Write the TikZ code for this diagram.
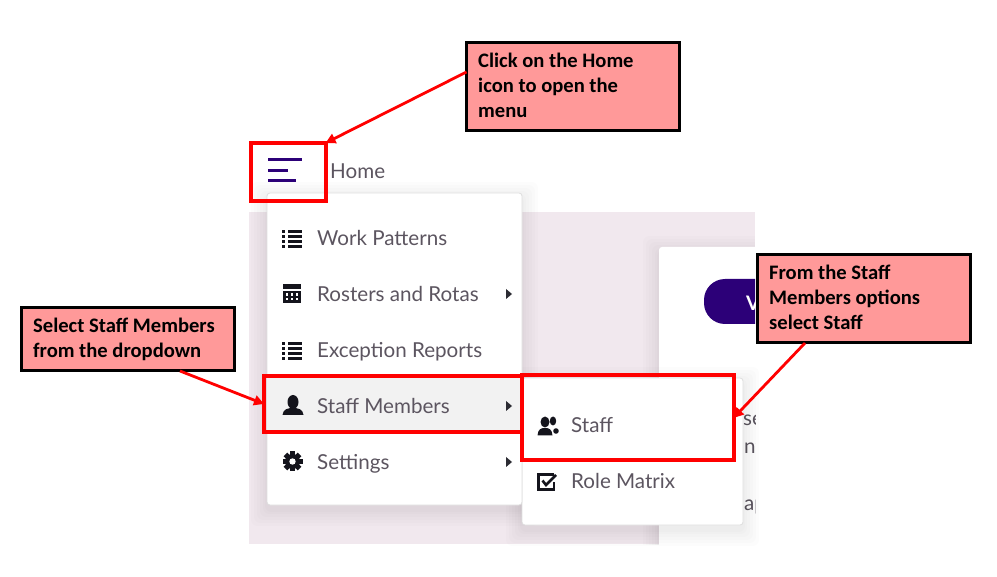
\documentclass[tikz,border=0pt]{standalone}
\usepackage{fontspec}
\setmainfont{Lato}
\newfontfamily\callfont{Carlito}[BoldFont={Carlito Bold}]
\usetikzlibrary{arrows.meta}
\definecolor{callfill}{HTML}{FF9999}
\definecolor{redbox}{HTML}{FF0000}
\definecolor{pinkbg}{HTML}{F1E8EE}
\definecolor{menutext}{HTML}{5C5560}
\definecolor{deep}{HTML}{2C0078}
\definecolor{ico}{HTML}{14141C}
\tikzset{
  x=1pt,y=-1pt,
  callout/.style={draw=black,line width=2.4pt,fill=callfill,inner sep=0pt,outer sep=0pt,anchor=north west},
  calltext/.style={font=\callfont\bfseries\fontsize{20.6}{25}\selectfont,text=black,anchor=north west,align=left,inner sep=0pt},
  redframe/.style={draw=redbox,line width=4pt,inner sep=0pt,outer sep=0pt,anchor=north west},
  redarrow/.style={draw=redbox,line width=2.8pt,-{Triangle[length=10pt,width=10pt]}},
  menuitem/.style={font=\fontsize{20.6}{24}\selectfont,text=menutext,anchor=base west,inner sep=0pt},
  panel/.style={draw=black!13,line width=.8pt,fill=white,rounded corners=3pt},
  bar/.style={fill=deep},
  icon/.style={fill=ico,draw=none},
  lineicon/.style={draw=ico,line width=2.2pt},
  tri/.style={fill=ico!90,draw=none}
}
\newcommand{\listicon}[2]{%
  \foreach \yy in {-7.5,-2.5,2.5,7.5}{
    \draw[lineicon] (#1-4,#2+\yy) -- (#1+10,#2+\yy);
    \draw[lineicon] (#1-10,#2+\yy) -- (#1-7,#2+\yy);
  }}
\newcommand{\softshadow}[4]{%
  \foreach \dd in {16,13,10,7,4,2}{
    \fill[black,opacity=.012,rounded corners=6pt] (#1-\dd,#2-\dd+5) rectangle (#3+\dd,#4+\dd+5);
  }}
\begin{document}
\begin{tikzpicture}
\useasboundingbox (0,0) rectangle (997,577);
\fill[white] (0,0) rectangle (997,577);
\begin{scope}
\clip (249,150) rectangle (755,544);
\fill[pinkbg] (249,212) rectangle (755,544);
\softshadow{659}{247}{760}{550}
\fill[white,rounded corners=3pt] (659,247) rectangle (770,560);
\fill[deep,rounded corners=21pt] (704,279) rectangle (790,324);
\node[anchor=base west,inner sep=0pt,text=white,font=\fontsize{20}{22}\selectfont\bfseries] (btn) at (746,311) {V};
\node[menuitem] (frag1) at (743,426) {se};
\node[menuitem] (frag2) at (744,454) {nt};
\node[menuitem] (frag3) at (744,511) {ap};
\end{scope}
% panels
\softshadow{267}{193}{522}{505}
\softshadow{522}{378}{743}{525}
\filldraw[panel] (522,378) rectangle (743,525);
\filldraw[panel] (267,193) rectangle (522,505);
\fill[black!5] (268,376) rectangle (521,432);
% hamburger
\fill[bar] (267.5,158) rectangle (301.5,161);
\fill[bar] (267.5,169) rectangle (287.5,172);
\fill[bar] (267.5,179.5) rectangle (295.5,182.5);
\node[menuitem] (home) at (330,179) {Home};
% menu items
\listicon{292}{239}
\node[menuitem] (work) at (317,245.5) {Work Patterns};
% roster icon
\fill[icon] (283,284) rectangle (301,289);
\fill[icon] (283,291) rectangle (301,303.5);
\foreach \xx in {285.5,290.5,295.5}{\foreach \yy in {293.5,298}{\fill[white] (\xx,\yy) rectangle (\xx+2.6,\yy+2.4);}}
\node[menuitem] (rost) at (317,301.5) {Rosters and Rotas};
\fill[tri] (506,289) -- (512,294) -- (506,299) -- cycle;
\listicon{292}{351}
\node[menuitem] (exc) at (317,357.5) {Exception Reports};
% person icon
\fill[icon] (293,402) ellipse (5.5 and 7);
\fill[icon] (282.5,415) .. controls (283,409) and (288,408) .. (293,408) .. controls (298,408) and (303,409) .. (303.5,415) -- cycle;
\node[menuitem] (staffm) at (317,413.5) {Staff Members};
\fill[tri] (506,401) -- (512,406) -- (506,411) -- cycle;
% gear
\foreach \ang in {0,45,...,315}{\fill[icon,rotate around={\ang:(292.5,461.5)}] (290,451.5) rectangle (295,456);}
\filldraw[icon] (292.5,461.5) circle (7.5);
\fill[white] (292.5,461.5) circle (3.2);
\node[menuitem] (sett) at (317,469.5) {Settings};
\fill[tri] (506,457) -- (512,462) -- (506,467) -- cycle;
% staff icon
\fill[icon] (545,422) ellipse (4.5 and 5.5);
\fill[icon] (537.5,435.5) .. controls (538,429) and (541,428) .. (545,428) .. controls (549,428) and (552,429) .. (552.5,435.5) -- cycle;
\fill[icon] (553,421) ellipse (3.2 and 4.5);
\fill[icon] (556,431) circle (2.8);
\node[menuitem] (staff) at (571,433) {Staff};
% role icon
\draw[ico,line width=2.4pt] (553,476) -- (553,474.5) -- (538.5,474.5) -- (538.5,489.5) -- (554,489.5) -- (554,482);
\draw[ico,line width=2.6pt] (542.5,480.5) -- (546,485) -- (556,475);
\node[menuitem] (role) at (571,489) {Role Matrix};
% red frames
\node[redframe,minimum width=74.5pt,minimum height=58pt] (homebox) at (251,143) {};
\node[redframe,minimum width=258pt,minimum height=56pt] (rowbox) at (264,376) {};
\node[redframe,minimum width=212pt,minimum height=85pt] (staffbox) at (521.5,375.5) {};
% callouts
\node[callout,minimum width=213pt,minimum height=88pt] (c1) at (466.5,42.5) {};
\node[calltext] (t1) at (478,53) {Click on the Home\\icon to open the\\menu};
\node[callout,minimum width=213pt,minimum height=63pt] (c2) at (21.5,307.5) {};
\node[calltext] (t2) at (33,318) {Select Staff Members\\from the dropdown};
\node[callout,minimum width=213pt,minimum height=88pt] (c3) at (757.5,254.5) {};
\node[calltext] (t3) at (769,265) {From the Staff\\Members options\\select Staff};
% arrows
\coordinate (a1) at (c1.west |- 0,72);
\coordinate (a2) at (180,371);
\coordinate (a3) at (805,343);
\draw[redarrow] (a1) -- (homebox.north east);
\draw[redarrow] (a2) -- (rowbox.west);
\draw[redarrow] (a3) -- (staffbox.east);
\end{tikzpicture}
\end{document}
